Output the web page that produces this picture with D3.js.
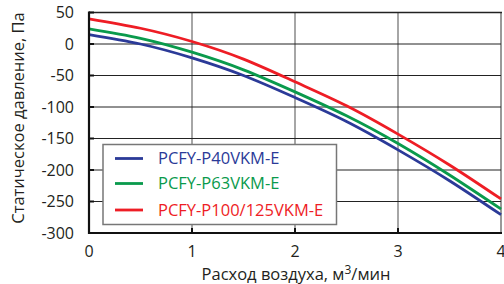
<!DOCTYPE html>
<html><head><meta charset="utf-8">
<script src="https://cdn.jsdelivr.net/npm/d3@7"></script>
<style>body{margin:0;background:#fff}svg{display:block}text{font-family:"Open Sans","Noto Sans",sans-serif}</style>
</head><body><svg id="c" width="504" height="284"></svg>
<script>
const xValues = [0, 0.5, 1, 1.5, 2, 2.5, 3, 3.5, 4];
const seriesNames = ["PCFY-P40VKM-E", "PCFY-P63VKM-E", "PCFY-P100/125VKM-E"];
const blueValues  = [15, 0, -22, -50, -85, -123, -168, -217, -271];
const greenValues = [24, 9, -13, -41, -76, -114, -158, -208, -262];
const redValues   = [40, 25, 4, -24, -60, -98, -143, -192, -246];
const seriesColors = ["#2b3a98", "#0a9a4c", "#ee1d25"];
const xTicks = [0, 1, 2, 3, 4];
const yTicks = [50, 0, -50, -100, -150, -200, -250, -300];

const svg = d3.select("#c");
const L = 89, R = 501, T = 12.5, B = 233;
const x = d3.scaleLinear().domain([0, 4]).range([L, R]);
const y = d3.scaleLinear().domain([-300, 50]).range([B, T]);

svg.append("g").selectAll("line").data(xTicks.slice(1)).join("line")
  .attr("x1", d => x(d)).attr("x2", d => x(d)).attr("y1", T).attr("y2", B)
  .attr("stroke", d => d === 4 ? "#777" : "#888").attr("stroke-width", 1.5);
svg.append("g").selectAll("line").data(yTicks.slice(1, -1)).join("line")
  .attr("x1", L).attr("x2", R).attr("y1", d => y(d)).attr("y2", d => y(d))
  .attr("stroke", "#222").attr("stroke-width", 1);
svg.append("line").attr("x1", L).attr("x2", R + 1).attr("y1", T).attr("y2", T)
  .attr("stroke", "#222").attr("stroke-width", 1.5);

const series = [blueValues, greenValues, redValues];
const line = d3.line().x((d, i) => x(xValues[i])).y(d => y(d)).curve(d3.curveNatural);
series.forEach((s, k) => {
  svg.append("path").attr("d", line(s)).attr("fill", "none")
    .attr("stroke", seriesColors[k]).attr("stroke-width", 2.8);
});

svg.append("line").attr("x1", L).attr("x2", L).attr("y1", T - 1).attr("y2", B + 1)
  .attr("stroke", "#111").attr("stroke-width", 2.2);
svg.append("line").attr("x1", L - 1).attr("x2", R + 1).attr("y1", B).attr("y2", B)
  .attr("stroke", "#111").attr("stroke-width", 2.2);
svg.append("g").selectAll("line").data(yTicks).join("line")
  .attr("x1", L).attr("x2", L + 5).attr("y1", d => y(d)).attr("y2", d => y(d))
  .attr("stroke", "#111").attr("stroke-width", 2);
svg.append("g").selectAll("line").data(xTicks.slice(1, -1)).join("line")
  .attr("x1", d => x(d)).attr("x2", d => x(d)).attr("y1", B).attr("y2", B - 5)
  .attr("stroke", "#111").attr("stroke-width", 2);

svg.append("g").selectAll("text").data(yTicks).join("text")
  .attr("x", 74).attr("y", d => y(d)).attr("dy", "0.36em")
  .attr("text-anchor", "end").attr("font-size", 16).attr("fill", "#231f20")
  .text(d => d);
svg.append("g").selectAll("text").data(xTicks).join("text")
  .attr("x", d => x(d)).attr("y", 257).attr("text-anchor", "middle")
  .attr("font-size", 16).attr("fill", "#231f20").text(d => d);

const xt = svg.append("text").attr("x", 296).attr("y", 280).attr("text-anchor", "middle")
  .attr("font-size", 16.5).attr("fill", "#231f20");
xt.append("tspan").text("Расход воздуха, м");
xt.append("tspan").attr("dy", -6).attr("font-size", 12).text("3");
xt.append("tspan").attr("dy", 6).text("/мин");
svg.append("text").attr("transform", "translate(24,118) rotate(-90)")
  .attr("text-anchor", "middle").attr("font-size", 16.5).attr("fill", "#231f20")
  .text("Статическое давление, Па");

const lg = svg.append("g");
lg.append("rect").attr("x", 103).attr("y", 144.5).attr("width", 233.5).attr("height", 80)
  .attr("fill", "#fff").attr("stroke", "#777").attr("stroke-width", 1.5);
const ly = [158.5, 183.5, 210];
seriesNames.forEach((n, k) => {
  lg.append("line").attr("x1", 115).attr("x2", 143).attr("y1", ly[k]).attr("y2", ly[k])
    .attr("stroke", seriesColors[k]).attr("stroke-width", 2.8);
  lg.append("text").attr("x", 158).attr("y", ly[k]).attr("dy", "0.36em")
    .attr("font-size", 16.5).attr("fill", seriesColors[k]).text(n);
});
</script></body></html>
